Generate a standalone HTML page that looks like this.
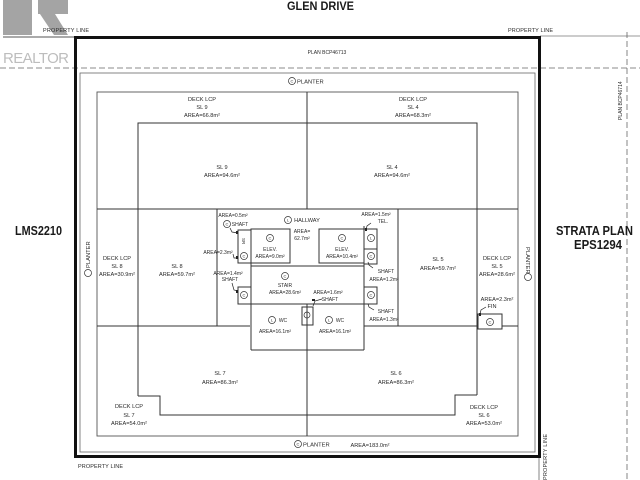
<!DOCTYPE html>
<html><head><meta charset="utf-8"><style>
html,body{margin:0;padding:0;background:#fff;}
svg{display:block;}
text{font-family:"Liberation Sans",sans-serif;fill:#2a2a2a;}
.s{font-size:5.6px;text-anchor:middle;}
.c{font-size:5px;text-anchor:middle;}
.b{font-weight:bold;fill:#1a1a1a;}
</style></head><body>
<svg width="640" height="480" viewBox="0 0 640 480" xmlns="http://www.w3.org/2000/svg">
<rect width="640" height="480" fill="#fff"/>
<!-- logo -->
<rect x="3" y="0" width="29" height="35" fill="#a4a4a4"/>
<rect x="38" y="0" width="30" height="14" fill="#a4a4a4"/>
<polygon points="40,14 55,14 68,35 54,35" fill="#a4a4a4"/>
<text x="3" y="63" font-size="15" textLength="66" style="fill:#bdbdbd">REALTOR</text>
<!-- property lines -->
<line x1="3" y1="37" x2="75" y2="37" stroke="#555" stroke-width="1"/>
<line x1="540" y1="36" x2="640" y2="36" stroke="#777" stroke-width="0.8"/>
<line x1="0" y1="68" x2="640" y2="68" stroke="#666" stroke-width="0.8" stroke-dasharray="6,3"/>
<line x1="627" y1="32" x2="627" y2="480" stroke="#666" stroke-width="0.8" stroke-dasharray="6,3"/>
<line x1="539" y1="457" x2="539" y2="480" stroke="#666" stroke-width="0.8"/>
<text x="287" y="10" font-size="12" textLength="67" class="b" lengthAdjust="spacingAndGlyphs">GLEN DRIVE</text>
<text x="43" y="32" font-size="5.5" textLength="46">PROPERTY LINE</text>
<text x="508" y="32" font-size="5.5" textLength="45">PROPERTY LINE</text>
<text x="78" y="468" font-size="5.5" textLength="45">PROPERTY LINE</text>
<text transform="translate(547,480) rotate(-90)" font-size="5.5" textLength="46">PROPERTY LINE</text>
<text x="327" y="54" class="c">PLAN BCP46713</text>
<text transform="translate(622,120) rotate(-90)" font-size="5" >PLAN BCP46714</text>
<text x="15" y="235" font-size="13" textLength="47" class="b" lengthAdjust="spacingAndGlyphs">LMS2210</text>
<text x="556" y="235" font-size="13" textLength="77" class="b" lengthAdjust="spacingAndGlyphs">STRATA PLAN</text>
<text x="574" y="249" font-size="13" textLength="48" class="b" lengthAdjust="spacingAndGlyphs">EPS1294</text>
<!-- thick boundary -->
<rect x="75.5" y="37.5" width="464" height="419" fill="none" stroke="#111" stroke-width="3"/>
<!-- planter -->
<rect x="80" y="73" width="455" height="379" fill="none" stroke="#666" stroke-width="0.8"/>
<!-- deck -->
<rect x="97" y="92" width="421" height="344" fill="none" stroke="#555" stroke-width="0.9"/>
<g stroke="#333" stroke-width="1" fill="none">
<polyline points="138,396 138,123 477,123 477,395"/>
<line x1="307" y1="92" x2="307" y2="209"/>
<line x1="97" y1="209" x2="518" y2="209"/>
<line x1="97" y1="326" x2="250" y2="326"/>
<line x1="364" y1="326" x2="478" y2="326"/>
<line x1="502" y1="326" x2="518" y2="326"/>
<line x1="217" y1="209" x2="217" y2="326"/>
<line x1="398" y1="209" x2="398" y2="326"/>
<polyline points="138,396 160,396 160,415 455,415 455,395 477,395"/>
<line x1="307" y1="304" x2="307" y2="436"/>
<line x1="251" y1="229" x2="251" y2="350"/>
<line x1="364" y1="226" x2="364" y2="350"/>
<line x1="251" y1="350" x2="364" y2="350"/>
<rect x="251" y="229" width="39" height="34"/>
<rect x="319" y="229" width="45" height="34"/>
<line x1="251" y1="266" x2="364" y2="266"/>
<line x1="251" y1="304" x2="364" y2="304"/>
<rect x="302" y="307" width="11" height="18"/>
<rect x="238" y="230" width="13" height="33"/>
<rect x="238" y="287" width="13" height="17"/>
<rect x="364" y="229" width="13" height="20"/>
<rect x="364" y="249" width="13" height="15"/>
<rect x="364" y="287" width="13" height="17"/>
<rect x="478" y="314" width="24" height="15"/>
</g>
<!-- leaders -->
<g stroke="#222" stroke-width="0.7" fill="none">
<polyline points="230,228 232,232 238,233"/>
<polyline points="233,254 234,258 238,258"/>
<polyline points="232,283 234,290 238,291"/>
<polyline points="371,223 367,226 366,230"/>
<polyline points="373,268 369,265 368,262"/>
<polyline points="374,310 369,307 368,304"/>
<polyline points="322,299 315,301 313,306"/>
<polyline points="486,307 481,310 480,314"/>
</g>
<g fill="#222">
<rect x="236" y="231" width="2" height="3"/>
<rect x="236" y="256" width="2" height="3"/>
<rect x="236" y="290" width="2" height="3"/>
<rect x="365" y="228" width="2" height="3"/>
<rect x="312" y="299" width="3" height="2"/>
<rect x="479" y="313" width="2" height="3"/>
</g>
<!-- circles -->
<g fill="none" stroke="#333" stroke-width="0.7">
<circle cx="292" cy="81" r="3.5"/>
<circle cx="298" cy="444" r="3.5"/>
<circle cx="88" cy="273" r="3.5"/>
<circle cx="528" cy="277" r="3.5"/>
<circle cx="288" cy="220" r="3.5"/>
<circle cx="227" cy="224" r="3.5"/>
<circle cx="270" cy="238" r="3.5"/>
<circle cx="342" cy="238" r="3.5"/>
<circle cx="285" cy="276" r="3.5"/>
<circle cx="272" cy="320" r="3.5"/>
<circle cx="329" cy="320" r="3.5"/>
<circle cx="244" cy="256" r="3.5"/>
<circle cx="244" cy="295" r="3.5"/>
<circle cx="371" cy="238" r="3.5"/>
<circle cx="371" cy="256" r="3.5"/>
<circle cx="371" cy="295" r="3.5"/>
<circle cx="307" cy="315" r="3"/>
<circle cx="490" cy="322" r="3.5"/>
</g>
<g font-size="4" text-anchor="middle">
<text x="292" y="82.5">C</text><text x="298" y="445.5">C</text>
<text x="288" y="221.5">L</text><text x="227" y="225.5">C</text>
<text x="270" y="239.5">C</text><text x="342" y="239.5">C</text>
<text x="285" y="277.5">C</text><text x="272" y="321.5">L</text>
<text x="329" y="321.5">L</text><text x="244" y="257.5">C</text>
<text x="244" y="296.5">C</text><text x="371" y="239.5">L</text>
<text x="371" y="257.5">C</text><text x="371" y="296.5">C</text>
<text x="490" y="323.5">C</text>
</g>
<!-- planter labels -->
<text x="297" y="83.5" font-size="5.8">PLANTER</text>
<text x="303" y="446.5" font-size="5.8">PLANTER</text>
<text x="370" y="447" class="s">AREA=183.0m²</text>
<text transform="translate(90,268) rotate(-90)" font-size="5.8">PLANTER</text>
<text transform="translate(526,247) rotate(90)" font-size="5.8">PLANTER</text>
<!-- SL labels -->
<text x="202" y="101" class="s">DECK LCP</text><text x="202" y="109" class="s">SL 9</text><text x="202" y="117" class="s">AREA=66.8m²</text>
<text x="413" y="101" class="s">DECK LCP</text><text x="413" y="109" class="s">SL 4</text><text x="413" y="117" class="s">AREA=68.3m²</text>
<text x="222" y="169" class="s">SL 9</text><text x="222" y="177" class="s">AREA=94.6m²</text>
<text x="392" y="169" class="s">SL 4</text><text x="392" y="177" class="s">AREA=94.6m²</text>
<text x="117" y="260" class="s">DECK LCP</text><text x="117" y="268" class="s">SL 8</text><text x="117" y="276" class="s">AREA=30.9m²</text>
<text x="177" y="268" class="s">SL 8</text><text x="177" y="276" class="s">AREA=59.7m²</text>
<text x="438" y="261" class="s">SL 5</text><text x="438" y="270" class="s">AREA=59.7m²</text>
<text x="497" y="260" class="s">DECK LCP</text><text x="497" y="268" class="s">SL 5</text><text x="497" y="276" class="s">AREA=28.6m²</text>
<text x="497" y="301" class="s">AREA=2.3m²</text><text x="492" y="308" class="s">FIN</text>
<text x="220" y="375" class="s">SL 7</text><text x="220" y="384" class="s">AREA=86.3m²</text>
<text x="396" y="375" class="s">SL 6</text><text x="396" y="384" class="s">AREA=86.3m²</text>
<text x="129" y="408" class="s">DECK LCP</text><text x="129" y="417" class="s">SL 7</text><text x="129" y="425" class="s">AREA=54.0m²</text>
<text x="484" y="409" class="s">DECK LCP</text><text x="484" y="417" class="s">SL 6</text><text x="484" y="425" class="s">AREA=53.0m²</text>
<!-- core labels -->
<text x="307" y="222" class="s">HALLWAY</text>
<text x="302" y="233" class="c">AREA=</text><text x="302" y="240" class="c">62.7m²</text>
<text x="233" y="217" class="c">AREA=0.5m²</text><text x="240" y="226" class="c">SHAFT</text>
<text x="218" y="254" class="c">AREA=2.3m²</text>
<text x="228" y="275" class="c">AREA=1.4m²</text><text x="230" y="281" class="c">SHAFT</text>
<text transform="translate(242,238) rotate(90)" font-size="4.5">SR</text>
<text x="270" y="251" class="c">ELEV.</text><text x="270" y="258" class="c">AREA=9.0m²</text>
<text x="342" y="251" class="c">ELEV.</text><text x="342" y="258" class="c">AREA=10.4m²</text>
<text x="285" y="287" class="c">STAIR</text><text x="285" y="294" class="c">AREA=28.6m²</text>
<text x="328" y="294" class="c">AREA=1.6m²</text><text x="330" y="301" class="c">SHAFT</text>
<text x="283" y="322" class="c">WC</text><text x="275" y="333" class="c">AREA=16.1m²</text>
<text x="340" y="322" class="c">WC</text><text x="335" y="333" class="c">AREA=16.1m²</text>
<text x="376" y="216" class="c">AREA=1.5m²</text><text x="383" y="223" class="c">TEL.</text>
<text x="386" y="273" class="c">SHAFT</text><text x="384" y="281" class="c">AREA=1.2m²</text>
<text x="386" y="313" class="c">SHAFT</text><text x="384" y="321" class="c">AREA=1.3m²</text>
</svg>
</body></html>
